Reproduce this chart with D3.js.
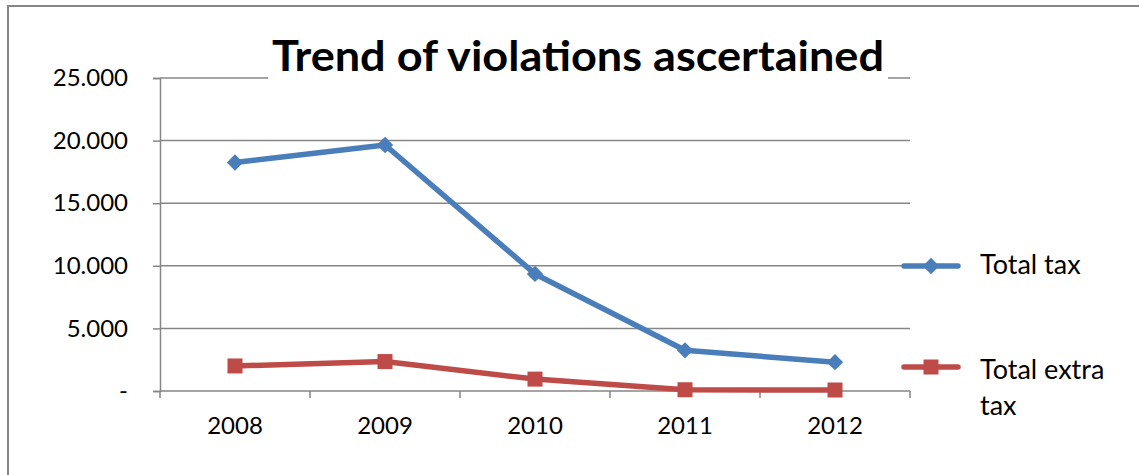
<!DOCTYPE html>
<html>
<head>
<meta charset="utf-8">
<script src="https://cdn.jsdelivr.net/npm/d3@7"></script>
<style>
  html, body { margin: 0; padding: 0; background: #fff; }
  svg { display: block; }
  text { font-family: Lato, "Open Sans", sans-serif; fill: #000; }
</style>
</head>
<body>
<svg id="chart" width="1139" height="475"></svg>
<script>
// Years on the x axis
const years = ["2008", "2009", "2010", "2011", "2012"];
// Series values
const totalTax = [18250, 19650, 9350, 3250, 2300];
const totalExtraTax = [2000, 2350, 950, 100, 80];
// Y axis ticks
const yTicks = [0, 5000, 10000, 15000, 20000, 25000];
const seriesNames = ["Total tax", "Total extra tax"];

const svg = d3.select("#chart");
const W = 1139, H = 475;
const plot = { left: 160, right: 910, top: 78, bottom: 391 };

// Outer chart frame (runs off the right and bottom edges)
svg.append("rect")
  .attr("x", 8).attr("y", 6)
  .attr("width", W + 20).attr("height", H + 20)
  .attr("fill", "#fff").attr("stroke", "#868686").attr("stroke-width", 2);

const x = d3.scaleBand().domain(years).range([plot.left, plot.right]);
const y = d3.scaleLinear().domain([0, 25000]).range([plot.bottom, plot.top]);

const fmt = v => v === 0 ? "-" : d3.format(",")(v).replace(/,/g, ".");

// Horizontal gridlines
svg.append("g")
  .selectAll("line").data(yTicks.filter(d => d > 0)).join("line")
  .attr("x1", plot.left).attr("x2", plot.right)
  .attr("y1", d => y(d)).attr("y2", d => y(d))
  .attr("stroke", "#868686").attr("stroke-width", 1.5);

// Y axis
const yAxis = svg.append("g")
  .attr("transform", `translate(${plot.left},0)`)
  .call(d3.axisLeft(y).tickValues(yTicks).tickFormat(fmt).tickSize(7).tickPadding(25));
yAxis.attr("font-size", null).attr("font-family", null);
yAxis.select(".domain").attr("stroke", "#868686").attr("stroke-width", 1.5);
yAxis.selectAll(".tick line").attr("stroke", "#868686").attr("stroke-width", 1.5);
yAxis.selectAll(".tick text")
  .style("font-family", "Lato, 'Open Sans', sans-serif")
  .style("font-size", "24px").attr("fill", "#000");

// X axis: ticks at band boundaries
const xAxisG = svg.append("g").attr("transform", `translate(0,${plot.bottom})`);
xAxisG.append("line")
  .attr("x1", plot.left).attr("x2", plot.right)
  .attr("stroke", "#868686").attr("stroke-width", 1.5);
const boundaries = years.map(d => x(d)).concat([x(years[years.length - 1]) + x.bandwidth()]);
xAxisG.selectAll("line.tk").data(boundaries).join("line").attr("class", "tk")
  .attr("x1", d => d).attr("x2", d => d).attr("y1", 0).attr("y2", 7)
  .attr("stroke", "#868686").attr("stroke-width", 1.5);
xAxisG.selectAll("text").data(years).join("text")
  .attr("x", d => x(d) + x.bandwidth() / 2).attr("y", 43)
  .attr("text-anchor", "middle").style("font-size", "24px")
  .text(d => d);

// Title with white backing
const titleG = svg.append("g");
const titleBg = titleG.append("rect").attr("fill", "#fff");
const title = titleG.append("text")
  .attr("x", 578).attr("y", 71)
  .attr("text-anchor", "middle")
  .style("font-size", "42px").style("font-weight", "bold")
  .attr("textLength", 612).attr("lengthAdjust", "spacingAndGlyphs")
  .text("Trend of violations ascertained");
const tb = title.node().getBBox();
titleBg.attr("x", tb.x - 4).attr("y", tb.y).attr("width", tb.width + 8).attr("height", tb.height + 2);

const cx = d => x(d) + x.bandwidth() / 2;
const line = d3.line().x((d, i) => cx(years[i])).y(d => y(d));

const blue = "#4a7ebb", red = "#be4b48";

// Total tax line with diamond markers
svg.append("path").datum(totalTax)
  .attr("d", line).attr("fill", "none")
  .attr("stroke", blue).attr("stroke-width", 5.5).attr("stroke-linejoin", "round");
const diamond = d3.symbol().type(d3.symbolDiamond2).size(170);
svg.append("g").selectAll("path").data(totalTax).join("path")
  .attr("d", diamond)
  .attr("transform", (d, i) => `translate(${cx(years[i])},${y(d)})`)
  .attr("fill", blue);

// Total extra tax line with square markers
svg.append("path").datum(totalExtraTax)
  .attr("d", line).attr("fill", "none")
  .attr("stroke", red).attr("stroke-width", 5.5).attr("stroke-linejoin", "round");
svg.append("g").selectAll("rect").data(totalExtraTax).join("rect")
  .attr("x", (d, i) => cx(years[i]) - 7.5).attr("y", d => y(d) - 7.5)
  .attr("width", 15).attr("height", 15)
  .attr("fill", red);

// Legend
const lg = svg.append("g");
lg.append("line").attr("x1", 904).attr("x2", 958).attr("y1", 266).attr("y2", 266)
  .attr("stroke", blue).attr("stroke-width", 5.5).attr("stroke-linecap", "round");
lg.append("path").attr("d", diamond).attr("transform", "translate(931,266)").attr("fill", blue);
lg.append("text").attr("x", 980).attr("y", 274).style("font-size", "27px").text(seriesNames[0]);

lg.append("line").attr("x1", 904).attr("x2", 958).attr("y1", 367).attr("y2", 367)
  .attr("stroke", red).attr("stroke-width", 5.5).attr("stroke-linecap", "round");
lg.append("rect").attr("x", 923.5).attr("y", 359.5).attr("width", 15).attr("height", 15).attr("fill", red);
const lt = lg.append("text").attr("x", 980).attr("y", 379).style("font-size", "27px");
lt.append("tspan").attr("x", 980).text("Total extra");
lt.append("tspan").attr("x", 980).attr("dy", 36).text("tax");
</script>
</body>
</html>
